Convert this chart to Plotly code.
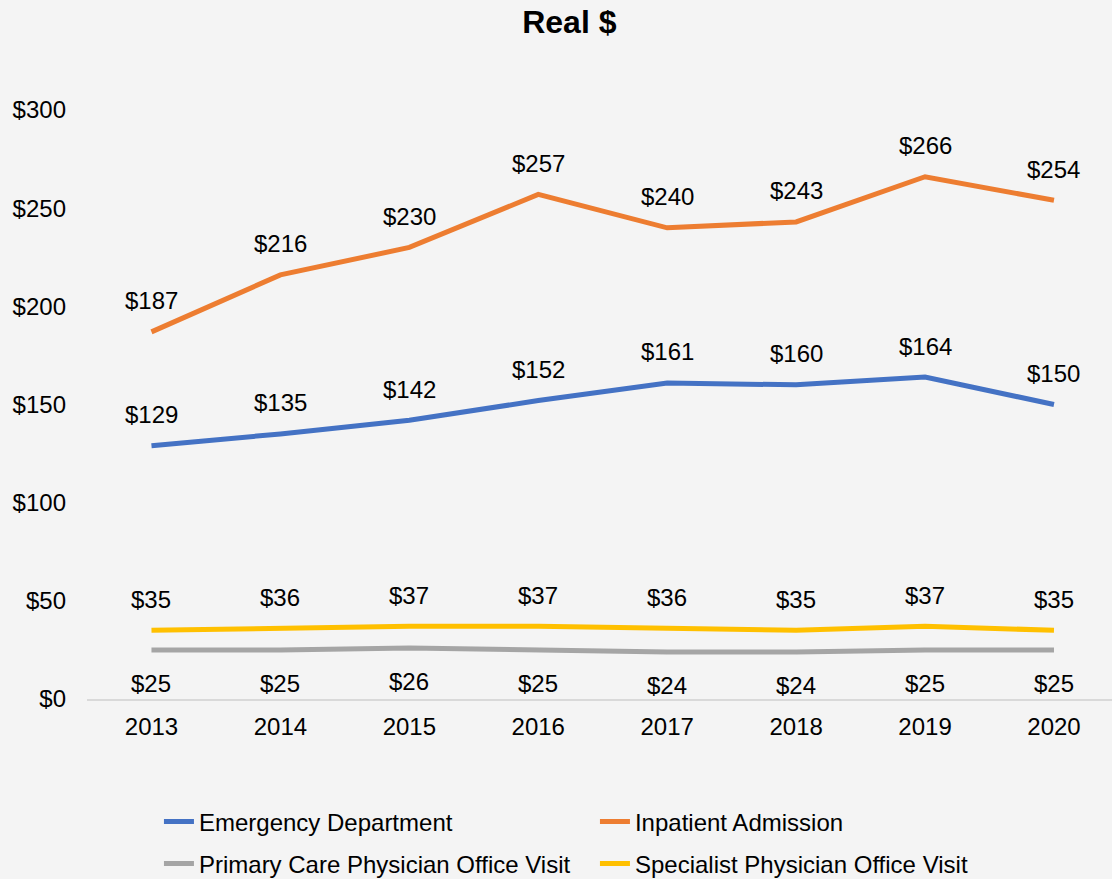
import plotly.graph_objects as go

years = ["2013", "2014", "2015", "2016", "2017", "2018", "2019", "2020"]
emergency = [129, 135, 142, 152, 161, 160, 164, 150]
inpatient = [187, 216, 230, 257, 240, 243, 266, 254]
primary = [25, 25, 26, 25, 24, 24, 25, 25]
specialist = [35, 36, 37, 37, 36, 35, 37, 35]

series = [
    ("Emergency Department", emergency, "#4472C4", 31, "legend"),
    ("Inpatient Admission", inpatient, "#ED7D31", 31, "legend"),
    ("Primary Care Physician Office Visit", primary, "#A5A5A5", -34, "legend2"),
    ("Specialist Physician Office Visit", specialist, "#FFC000", 31, "legend2"),
]

FONT = "Liberation Sans, Arial, sans-serif"
fig = go.Figure()
annotations = []
for name, vals, color, shift, leg in series:
    fig.add_trace(go.Scatter(x=years, y=vals, name=name, mode="lines", legend=leg,
                             line=dict(color=color, width=5), cliponaxis=False))
    for i, v in enumerate(vals):
        annotations.append(dict(x=i, y=v, xref="x", yref="y", text=f"${v}", showarrow=False,
                                yshift=shift, font=dict(size=24, color="#000000", family=FONT)))

leg_common = dict(orientation="h", x=0.0702, xanchor="left", yanchor="middle",
                  entrywidth=391, entrywidthmode="pixels",
                  font=dict(size=24, family=FONT, color="#000000"),
                  bgcolor="rgba(0,0,0,0)")

fig.update_layout(
    width=1112, height=879,
    paper_bgcolor="#F4F4F4", plot_bgcolor="#F4F4F4",
    margin=dict(l=87, r=0, t=110, b=180, autoexpand=False),
    font=dict(family=FONT, size=24, color="#000000"),
    title=dict(text="<b>Real $</b>", x=0.512, xanchor="center", xref="container", y=0.975, yanchor="middle",
               font=dict(size=32, family=FONT, color="#000000")),
    annotations=annotations,
    showlegend=True,
    legend=dict(y=-0.2088, **leg_common),
    legend2=dict(y=-0.2801, **leg_common),
)
fig.update_xaxes(type="category", range=[-0.5, 7.45], showgrid=False, showline=True,
                 linecolor="#D9D9D9", linewidth=1.5, ticks="", ticklabelstandoff=5,
                 tickfont=dict(size=24, family=FONT), zeroline=False, fixedrange=True)
fig.update_yaxes(range=[0, 300], dtick=50, tickprefix="$", showgrid=False, showline=False,
                 zeroline=False, ticks="", ticklabelstandoff=20,
                 tickfont=dict(size=24, family=FONT), fixedrange=True)

fig.write_html("out.html", config={"displayModeBar": False},
               post_script="document.body.style.margin='0';document.body.style.overflow='hidden';")
